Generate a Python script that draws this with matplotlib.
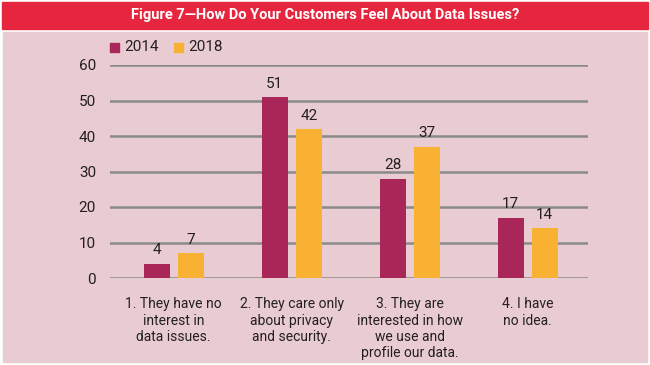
import numpy as np
import matplotlib.pyplot as plt
from matplotlib.patches import Rectangle

categories = ["1. They have no\ninterest in\ndata issues.",
              "2. They care only\nabout privacy\nand security.",
              "3. They are\ninterested in how\nwe use and\nprofile our data.",
              "4. I have\nno idea."]
v2014 = [4, 51, 28, 17]
v2018 = [7, 42, 37, 14]
years = ["2014", "2018"]
yticks = [0, 10, 20, 30, 40, 50, 60]

c14 = "#A82658"
c18 = "#F8B133"
bg = "#E9CCD1"
red = "#E5263E"

plt.rcParams['font.family'] = ['Roboto', 'DejaVu Sans']

fig = plt.figure(figsize=(6.5, 3.65), dpi=100)
fig.patch.set_facecolor("white")

# title banner + pink panel
fig.add_artist(Rectangle((2/650, 1 - 29/365), 646/650, 27/365, transform=fig.transFigure,
                         color=red, zorder=0))
fig.add_artist(Rectangle((3/650, 3/365), 644/650, 330/365, transform=fig.transFigure,
                         color=bg, zorder=0))
fig.text(0.5, 1 - 15/365, "Figure 7\u2014How Do Your Customers Feel About Data Issues?",
         color="white", fontsize=10.5, fontweight="bold", ha="center", va="center")

ax = fig.add_axes([110/650, 1 - 278/365, 478/650, 213/365])
ax.set_facecolor("none")
x = np.arange(len(categories))
w = 0.22
off = 0.144
b1 = ax.bar(x - off, v2014, w, color=c14, zorder=3)
b2 = ax.bar(x + off, v2018, w, color=c18, zorder=3)
for bars in (b1, b2):
    for r in bars:
        ax.text(r.get_x() + r.get_width() / 2, r.get_height() + 1.8, f"{r.get_height():g}",
                ha="center", va="bottom", fontsize=11, color="#231F20")

ax.set_ylim(0, 60)
ax.set_xlim(-0.54, 3.51)
ax.set_yticks(yticks)
ax.yaxis.grid(True, color="#8A8A8A", lw=1.8, zorder=1)
ax.tick_params(axis="y", length=0, pad=10, labelsize=11, labelcolor="#231F20")
ax.set_xticks(x)
ax.set_xticklabels(categories, fontsize=10, color="#231F20", linespacing=1.2)
ax.tick_params(axis="x", length=0, pad=14)
for s in ax.spines.values():
    s.set_visible(False)

# legend
for i, (lab, c) in enumerate(zip(years, [c14, c18])):
    x0 = 110 + i * 64
    fig.add_artist(Rectangle((x0/650, 1 - 52/365), 9/650, 9/365, transform=fig.transFigure,
                             color=c, zorder=2))
    fig.text((x0 + 14)/650, 1 - 47/365, lab, fontsize=11, va="center", ha="left", color="#231F20")

fig.savefig("out.png", dpi=100)
